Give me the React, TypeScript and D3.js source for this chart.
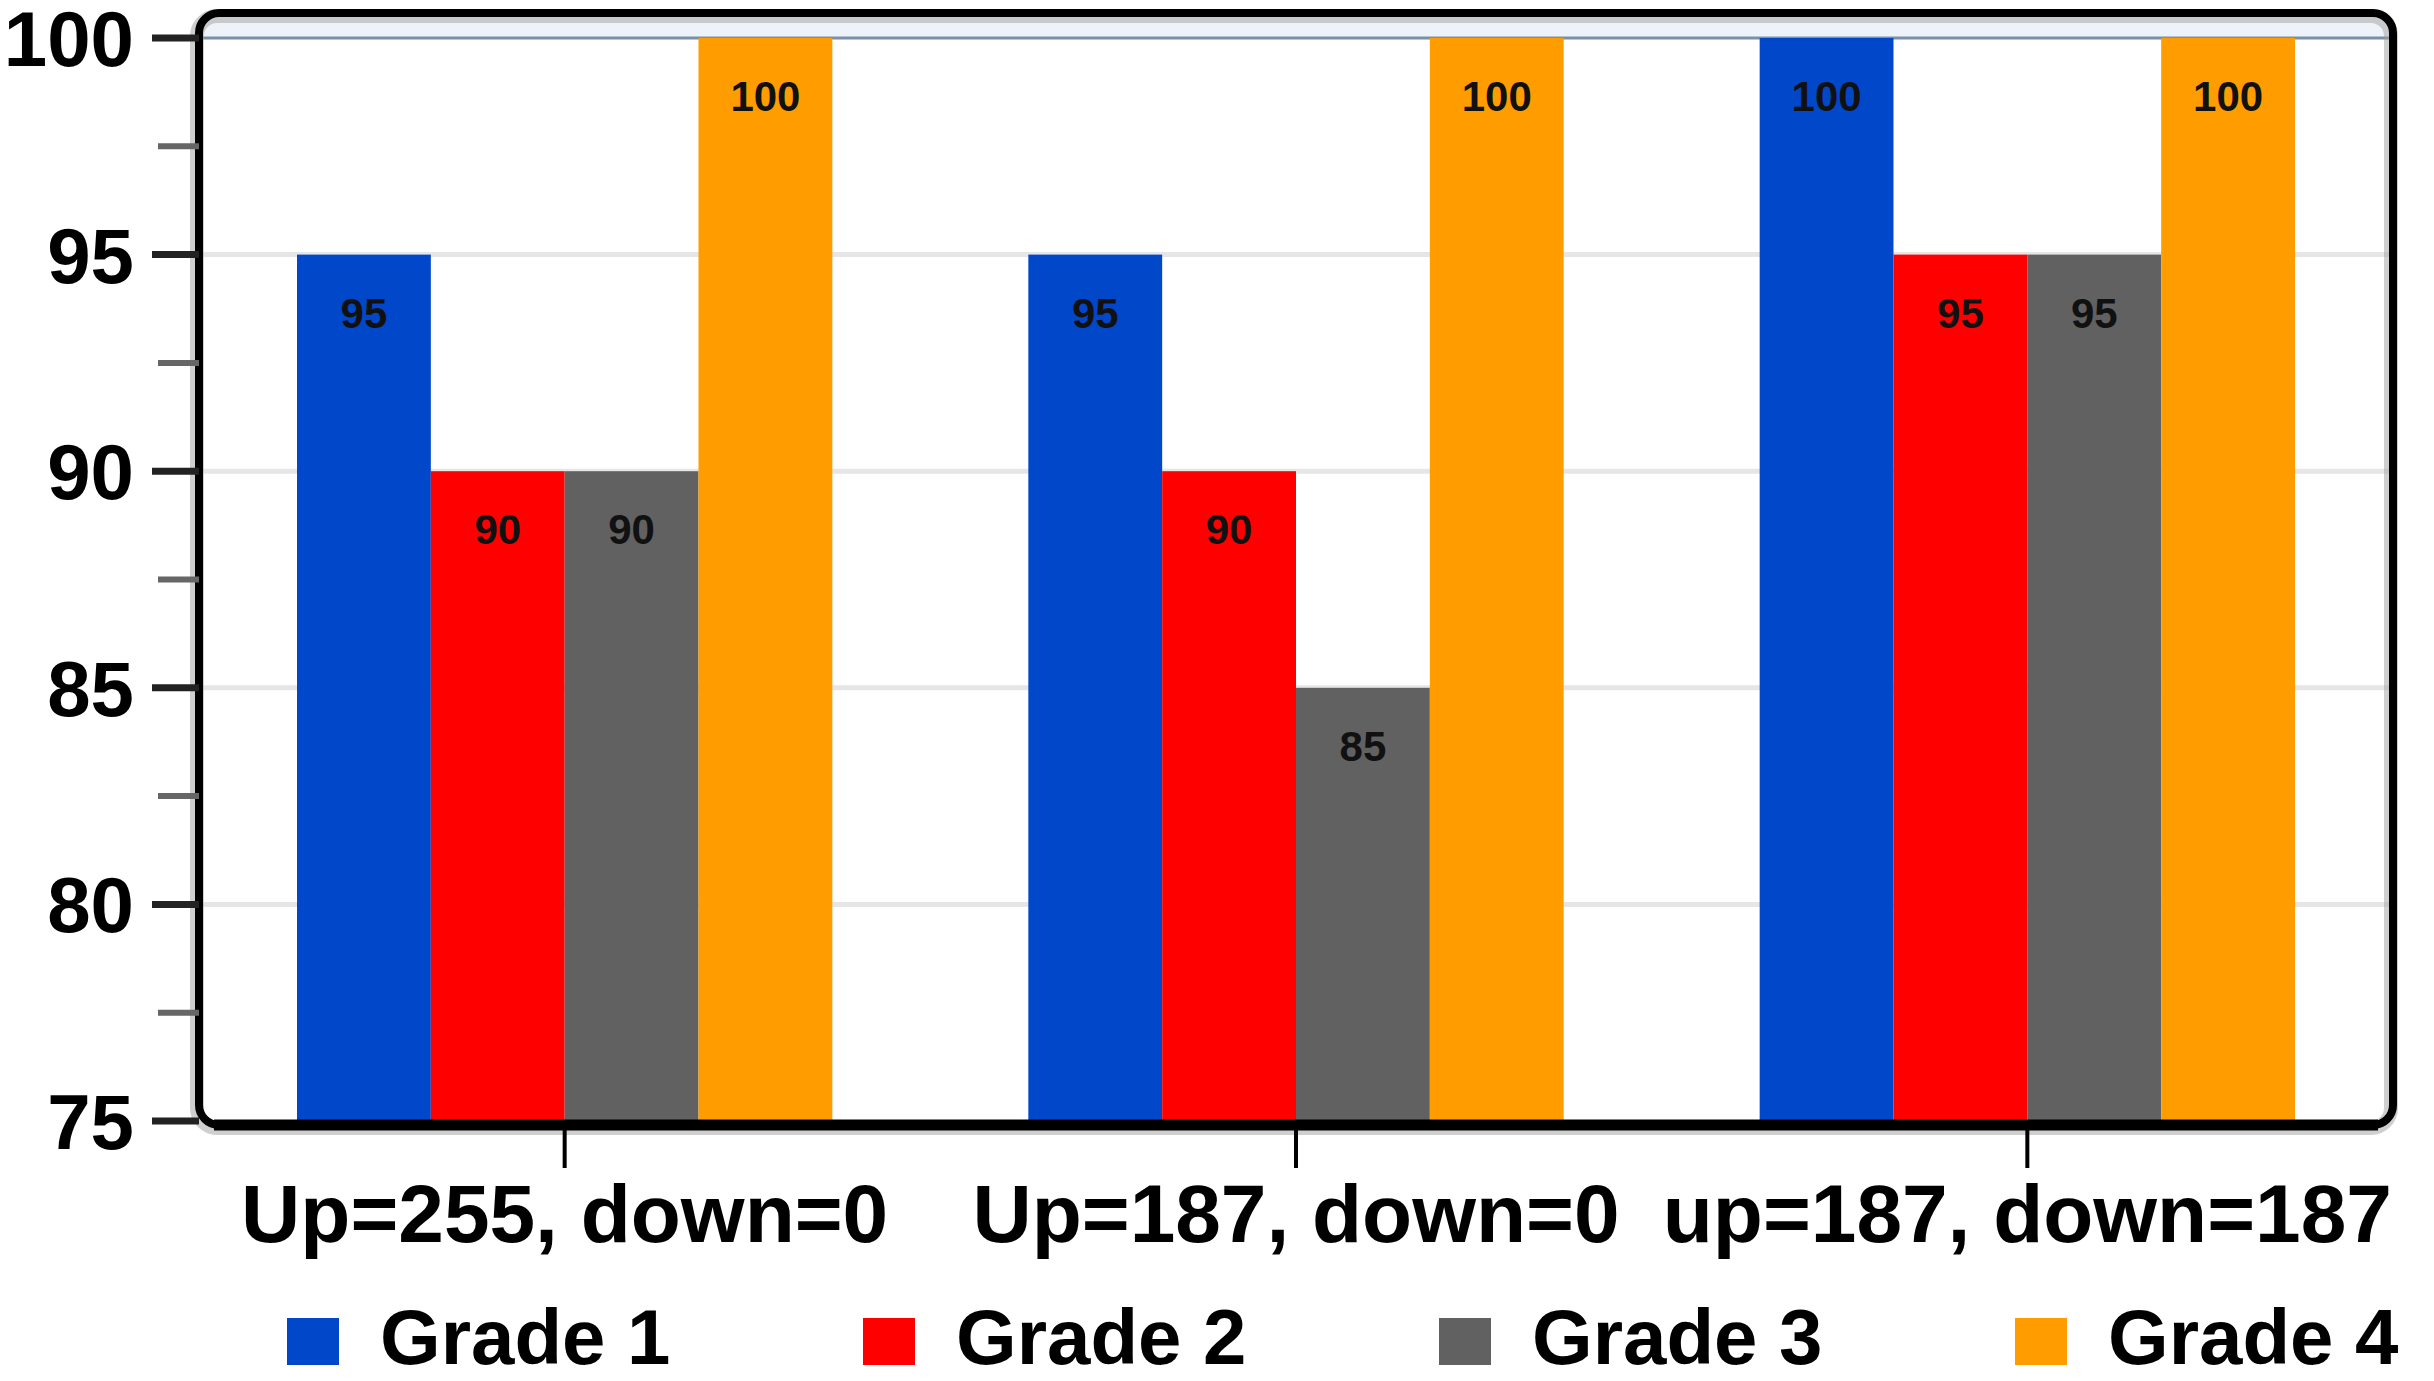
import * as React from "react";
import * as d3 from "d3";

// chart data
const groups = ["Up=255, down=0", "Up=187, down=0", "up=187, down=187"];
const grades = ["Grade 1", "Grade 2", "Grade 3", "Grade 4"];
const grade1 = [95, 95, 100];
const grade2 = [90, 90, 95];
const grade3 = [90, 85, 95];
const grade4 = [100, 100, 100];
const series = [grade1, grade2, grade3, grade4];
const colors = ["#0047c9", "#ff0000", "#616161", "#ff9d00"];
const yTicks = [75, 80, 85, 90, 95, 100];
const yMinorTicks = [77.5, 82.5, 87.5, 92.5, 97.5];

const WIDTH = 2434;
const HEIGHT = 1381;
const FONT = "'Liberation Sans', Arial, sans-serif";

export default function App() {
    const ref = React.useRef(null);

    React.useEffect(() => {
        document.body.style.margin = "0";
        const svg = d3.select(ref.current);
        svg.selectAll("*").remove();

        const left = 199, right = 2393, top = 38, bottom = 1121;

        const x = d3.scaleBand().domain(groups).range([left, right]);
        // bars fill ~73% of each group slot, centered
        const groupW = x.bandwidth() * 0.732;
        const xInner = d3.scaleBand().domain(grades)
            .range([(x.bandwidth() - groupW) / 2, (x.bandwidth() + groupW) / 2]);

        const y = d3.scaleLinear().domain([75, 100]).range([bottom, top]);

        // pale band above the 100 line
        svg.append("rect")
            .attr("x", left + 4).attr("y", 17)
            .attr("width", right - left - 8).attr("height", y(100) - 17)
            .attr("fill", "#eef3fa");

        // gridlines
        svg.append("g")
            .selectAll("line")
            .data(yTicks.filter(d => d > 75 && d < 100))
            .join("line")
            .attr("x1", left + 4).attr("x2", right - 4)
            .attr("y1", d => y(d)).attr("y2", d => y(d))
            .attr("stroke", "#e6e6e6").attr("stroke-width", 5);
        svg.append("line")
            .attr("x1", left + 4).attr("x2", right - 4)
            .attr("y1", y(100)).attr("y2", y(100))
            .attr("stroke", "#7a8fa8").attr("stroke-width", 3);

        // bars
        const barData = groups.flatMap((g, gi) => grades.map((gr, si) => ({g, gr, si, v: series[si][gi]})));
        svg.append("g")
            .selectAll("rect")
            .data(barData)
            .join("rect")
            .attr("x", d => x(d.g) + xInner(d.gr))
            .attr("y", d => y(d.v))
            .attr("width", xInner.bandwidth())
            .attr("height", d => y(75) - y(d.v))
            .attr("fill", d => colors[d.si]);

        // value labels
        svg.append("g")
            .selectAll("text")
            .data(barData)
            .join("text")
            .attr("x", d => x(d.g) + xInner(d.gr) + xInner.bandwidth() / 2)
            .attr("y", d => y(d.v) + 73)
            .attr("text-anchor", "middle")
            .attr("font-family", FONT)
            .attr("font-weight", "bold")
            .attr("font-size", 42)
            .attr("fill", "#111")
            .text(d => d.v);

        // frame with soft shadow
        svg.append("rect")
            .attr("x", left - 2).attr("y", 16)
            .attr("width", right - left).attr("height", 1112)
            .attr("rx", 20)
            .attr("fill", "none")
            .attr("stroke", "#a0a0a0").attr("stroke-opacity", 0.5).attr("stroke-width", 14);
        svg.append("rect")
            .attr("x", left).attr("y", 13)
            .attr("width", right - left).attr("height", 1112)
            .attr("rx", 20)
            .attr("fill", "none")
            .attr("stroke", "#000").attr("stroke-width", 8);
        svg.append("line")
            .attr("x1", left + 15).attr("x2", right - 15)
            .attr("y1", 1125).attr("y2", 1125)
            .attr("stroke", "#000").attr("stroke-width", 11);

        // y ticks
        svg.append("g")
            .selectAll("line")
            .data(yTicks)
            .join("line")
            .attr("x1", 152).attr("x2", left)
            .attr("y1", d => y(d)).attr("y2", d => y(d))
            .attr("stroke", "#222").attr("stroke-width", 7);
        svg.append("g")
            .selectAll("line")
            .data(yMinorTicks)
            .join("line")
            .attr("x1", 158).attr("x2", left)
            .attr("y1", d => y(d)).attr("y2", d => y(d))
            .attr("stroke", "#666").attr("stroke-width", 6);
        svg.append("g")
            .selectAll("text")
            .data(yTicks)
            .join("text")
            .attr("x", 134)
            .attr("y", d => y(d))
            .attr("dy", "0.36em")
            .attr("text-anchor", "end")
            .attr("font-family", FONT)
            .attr("font-weight", "bold")
            .attr("font-size", 78)
            .attr("fill", "#000")
            .text(d => d);

        // x ticks and labels
        svg.append("g")
            .selectAll("line")
            .data(groups)
            .join("line")
            .attr("x1", d => x(d) + x.bandwidth() / 2).attr("x2", d => x(d) + x.bandwidth() / 2)
            .attr("y1", 1130).attr("y2", 1168)
            .attr("stroke", "#000").attr("stroke-width", 4);
        svg.append("g")
            .selectAll("text")
            .data(groups)
            .join("text")
            .attr("x", d => x(d) + x.bandwidth() / 2)
            .attr("y", 1242)
            .attr("text-anchor", "middle")
            .attr("font-family", FONT)
            .attr("font-weight", "bold")
            .attr("font-size", 82)
            .attr("fill", "#000")
            .text(d => d);

        // legend
        const lx = d3.scalePoint().domain(grades).range([287, 2015]);
        const legend = svg.append("g")
            .selectAll("g")
            .data(grades)
            .join("g")
            .attr("transform", d => `translate(${lx(d)},0)`);
        legend.append("rect")
            .attr("x", 0).attr("y", 1318)
            .attr("width", 52).attr("height", 47)
            .attr("fill", (d, i) => colors[i]);
        legend.append("text")
            .attr("x", 93).attr("y", 1364)
            .attr("font-family", FONT)
            .attr("font-weight", "bold")
            .attr("font-size", 78)
            .attr("fill", "#000")
            .text(d => d);
    }, []);

    return <svg ref={ref} width={WIDTH} height={HEIGHT} style={{display: "block", background: "#fff"}}/>;
}
